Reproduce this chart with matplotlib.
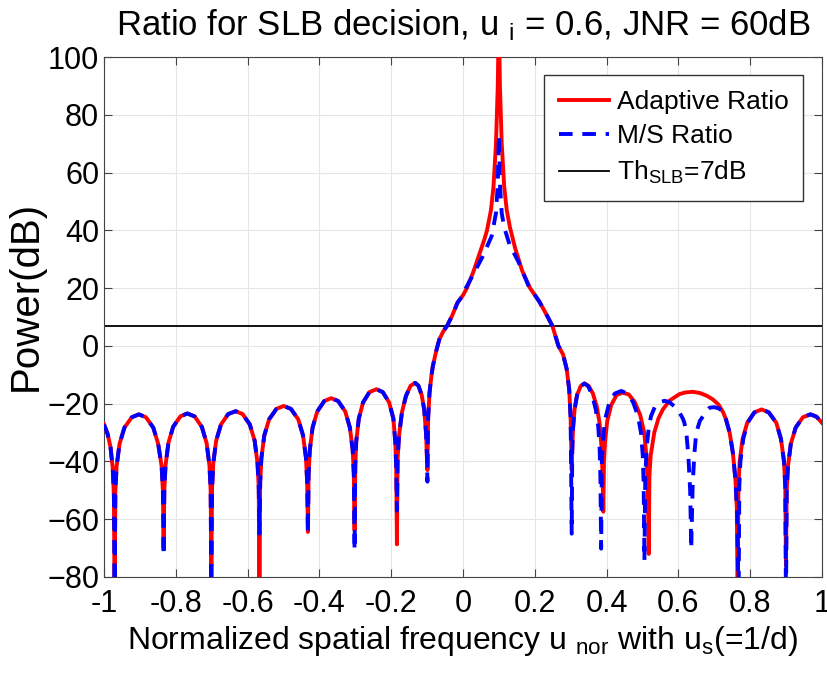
import matplotlib
matplotlib.use("Agg")
import matplotlib.pyplot as plt

# normalized spatial frequency / power (dB)
u_adapt = [-1.0, -0.99, -0.982, -0.976, -0.9725, -0.9705,
           -0.9685, -0.965, -0.9568, -0.9432, -0.9227, -0.903, -0.8833, -0.8628, -0.8492, -0.8395, -0.836, -0.834,
           -0.832, -0.8287, -0.8207, -0.8074, -0.7874, -0.768, -0.7476, -0.7276, -0.7143, -0.7063, -0.703, -0.701,
           -0.699, -0.6956, -0.6876, -0.6742, -0.6541, -0.633, -0.6139, -0.5938, -0.5804, -0.5724, -0.569, -0.567,
           -0.565, -0.5616, -0.5535, -0.54, -0.5197, -0.4995, -0.4793, -0.459, -0.4455, -0.4374, -0.434, -0.432,
           -0.43, -0.4268, -0.419, -0.406, -0.3865, -0.367, -0.3475, -0.328, -0.315, -0.3072, -0.304, -0.302,
           -0.3, -0.2973, -0.2902, -0.2784, -0.2607, -0.241, -0.2233, -0.2056, -0.1938, -0.1887, -0.186, -0.184,
           -0.182, -0.178, -0.17, -0.159, -0.146, -0.133, -0.124, -0.115, -0.108, -0.103, -0.1005, -0.099,
           -0.097, -0.093, -0.088, -0.084, -0.075, -0.066, -0.055, -0.044, -0.03, -0.015, 0.0, 0.011, 0.03,
           0.048, 0.06, 0.067, 0.078, 0.085, 0.092, 0.097, 0.1, 0.103, 0.108, 0.115, 0.122, 0.131, 0.145,
           0.165, 0.187, 0.213, 0.232, 0.249, 0.266, 0.279, 0.289, 0.296, 0.3, 0.303,
           0.3045, 0.307, 0.311, 0.318, 0.328, 0.3385, 0.35, 0.362, 0.373, 0.381, 0.386, 0.389, 0.391,
           0.393, 0.396, 0.402, 0.413, 0.428, 0.445, 0.462, 0.479, 0.494, 0.505, 0.511, 0.515, 0.5176,
           0.5195, 0.523, 0.533, 0.545, 0.557, 0.575, 0.603, 0.62, 0.64, 0.66, 0.68, 0.696, 0.712, 0.725,
           0.733, 0.743, 0.752, 0.759, 0.763, 0.7655,
           0.7675, 0.771, 0.779, 0.792, 0.812, 0.832, 0.852, 0.873, 0.886, 0.8945, 0.898, 0.9,
           0.902, 0.9055, 0.9135, 0.927, 0.947, 0.968, 0.985, 1.0]
p_adapt = [-27.2, -30.5, -35, -42, -52, -90,
           -50.2, -41.7, -33.9, -28.3, -24.7, -23.7, -24.7, -28.3, -33.9, -41.7, -50.2, -69.7,
           -49.9, -41.4, -33.6, -28, -24.4, -23.4, -24.4, -28, -33.6, -41.4, -49.9, -76,
           -49.1, -40.6, -32.8, -27.2, -23.6, -22.6, -23.6, -27.2, -32.8, -40.6, -49.1, -90,
           -47.3, -38.8, -31, -25.4, -21.8, -20.8, -21.8, -25.4, -31, -38.8, -47.3, -64.4,
           -44.6, -36.1, -28.3, -22.7, -19.1, -18.1, -19.1, -22.7, -28.3, -36.1, -44.6, -63.8,
           -41.5, -33, -25.2, -19.6, -16, -15, -16, -19.6, -25.2, -33, -41.5, -68.7,
           -39, -31, -23, -17.4, -13.8, -12.8, -13.8, -17, -22, -30, -38, -43,
           -25, -16, -10.5, -7.1, -2, 2.2, 5, 7, 10.5, 15, 17.5, 20, 26,
           32.6, 37, 40, 47, 55, 70, 90, 115, 90, 70, 55, 47, 41, 34,
           26, 20, 15.3, 11, 7, 0, -3, -8, -15, -25, -43,
           -36, -28, -22, -17, -13.9, -13, -13.8, -16.5, -21, -27, -35, -45, -57.4,
           -40, -33, -26, -20.5, -17, -16.2, -16.8, -19.5, -24, -30, -38, -48, -72,
           -45, -38, -30, -25, -22, -19, -16.7, -16.1, -15.9, -16.3, -17.3, -18.5, -20.3, -23,
           -25.5, -30, -37, -46, -56, -90,
           -48.5, -40, -32.2, -26.6, -23, -22, -23, -26.6, -32.2, -40, -48.5, -76,
           -50, -41.7, -33.9, -28.3, -24.7, -23.7, -24.5, -26.6]

u_ms = [-1.0, -0.99, -0.982, -0.976, -0.9725, -0.9705,
        -0.9685, -0.965, -0.9568, -0.9432, -0.9227, -0.903, -0.8833, -0.8628, -0.8492, -0.8395, -0.836, -0.834,
        -0.832, -0.8287, -0.8207, -0.8074, -0.7874, -0.768, -0.7476, -0.7276, -0.7143, -0.7063, -0.703, -0.701,
        -0.699, -0.6956, -0.6876, -0.6742, -0.6541, -0.633, -0.6139, -0.5938, -0.5804, -0.5724, -0.569, -0.567,
        -0.565, -0.5616, -0.5535, -0.54, -0.5197, -0.4995, -0.4793, -0.459, -0.4455, -0.4374, -0.434, -0.432,
        -0.43, -0.4268, -0.419, -0.406, -0.3865, -0.367, -0.3475, -0.328, -0.315, -0.3072, -0.304, -0.302,
        -0.3, -0.2973, -0.2902, -0.2784, -0.2607, -0.241, -0.2233, -0.2056, -0.1938, -0.1887, -0.186, -0.184,
        -0.182, -0.178, -0.17, -0.159, -0.146, -0.133, -0.124, -0.115, -0.108, -0.103, -0.1005, -0.099,
        -0.097, -0.093, -0.088, -0.084, -0.075, -0.066, -0.055, -0.044, -0.03, -0.015, 0.0, 0.008, 0.03,
        0.055, 0.08, 0.092, 0.097, 0.1, 0.103, 0.108, 0.115, 0.13, 0.155, 0.182,
        0.213, 0.232, 0.249, 0.266, 0.279, 0.289, 0.296, 0.3, 0.303,
        0.3045, 0.307, 0.311, 0.318, 0.328, 0.3385, 0.349, 0.36, 0.37, 0.377, 0.381, 0.383, 0.385,
        0.387, 0.39, 0.396, 0.407, 0.423, 0.441, 0.458, 0.474, 0.487, 0.496, 0.501, 0.5035, 0.5056,
        0.508, 0.512, 0.518, 0.524, 0.535, 0.548, 0.562, 0.575, 0.59, 0.603, 0.612, 0.617, 0.623, 0.628,
        0.633, 0.636, 0.64, 0.645, 0.65, 0.66, 0.669, 0.678, 0.687, 0.7, 0.712, 0.724, 0.733,
        0.743, 0.752, 0.759, 0.764, 0.768,
        0.77, 0.773, 0.781, 0.793, 0.812, 0.832, 0.852, 0.873, 0.886, 0.8945, 0.898, 0.9,
        0.902, 0.9055, 0.9135, 0.927, 0.947, 0.968, 0.985, 1.0]
p_ms = [-27.2, -30.5, -35, -42, -52, -90,
        -50.2, -41.7, -33.9, -28.3, -24.7, -23.7, -24.7, -28.3, -33.9, -41.7, -50.2, -72.6,
        -49.9, -41.4, -33.6, -28, -24.4, -23.4, -24.4, -28, -33.6, -41.4, -49.9, -90,
        -49.1, -40.6, -32.8, -27.2, -23.6, -22.6, -23.6, -27.2, -32.8, -40.6, -49.1, -65,
        -47.3, -38.8, -31, -25.4, -21.8, -20.8, -21.8, -25.4, -31, -38.8, -47.3, -65,
        -44.6, -36.1, -28.3, -22.7, -19.1, -18.1, -19.1, -22.7, -28.3, -36.1, -44.6, -70.8,
        -41.5, -33, -25.2, -19.6, -16, -15, -16, -19.6, -25.2, -33, -41.5, -57,
        -39, -31, -23, -17.4, -13.8, -12.8, -13.8, -17, -22, -30, -38, -47,
        -25, -16, -10.5, -7.1, -2, 2.2, 5, 7, 10.5, 15, 17.5, 20, 25,
        31, 38, 46, 56, 73, 56, 46, 41, 35, 29, 21,
        15.3, 11, 7, 0, -3, -8, -15, -25, -65,
        -36, -28, -22, -17, -13.9, -13, -14, -17, -22, -28, -36, -46, -70.2,
        -40, -33, -25.5, -20, -16.5, -15.6, -16.5, -19.5, -24, -30, -38, -48, -74.3,
        -45, -35, -28, -24.3, -21, -19.5, -19, -19.5, -21, -23, -25, -26.6, -31, -38,
        -50, -70.2, -48, -37, -30, -26, -24.3, -22.5, -21.4, -21.2, -21.6, -22.6, -25.5,
        -30, -37, -46, -58, -90,
        -48.5, -40, -32.2, -26.6, -23, -22, -23, -26.6, -32.2, -40, -48.5, -90,
        -50, -41.7, -33.9, -28.3, -24.7, -23.7, -24.5, -26.6]

th_slb = 7
x_ticks = [-1, -0.8, -0.6, -0.4, -0.2, 0, 0.2, 0.4, 0.6, 0.8, 1]
x_labels = ["-1", "-0.8", "-0.6", "-0.4", "-0.2", "0", "0.2", "0.4", "0.6", "0.8", "1"]
y_ticks = [-80, -60, -40, -20, 0, 20, 40, 60, 80, 100]

fam = "Liberation Sans"
plt.rcParams["font.family"] = [fam, "DejaVu Sans"]
plt.rcParams["mathtext.fontset"] = "custom"
plt.rcParams["mathtext.rm"] = fam
plt.rcParams["mathtext.it"] = fam
plt.rcParams["mathtext.default"] = "regular"

fig = plt.figure(figsize=(8.27, 6.83), dpi=100)
ax = fig.add_axes([0.1258, 0.1552, 0.868, 0.7613])

ax.plot(u_adapt, p_adapt, color="red", lw=2.8, label="Adaptive Ratio", zorder=3)
ax.plot(u_ms, p_ms, color="blue", lw=2.8, ls=(0, (3.5, 2.5)), label="M/S Ratio", zorder=4)
ax.axhline(th_slb, color="black", lw=1.3, label=r"Th$_{SLB}$=7dB", zorder=2)

ax.set_xlim(-1, 1)
ax.set_ylim(-80, 100)
ax.set_xticks(x_ticks)
ax.set_xticklabels(x_labels)
ax.set_yticks(y_ticks)
ax.tick_params(direction="in", top=True, right=True, labelsize=22, length=6, color="#444444")
ax.tick_params(axis="x", pad=9)
ax.grid(True, color="#e6e6e6", lw=0.8)
ax.set_axisbelow(True)
for s in ax.spines.values():
    s.set_color("#444444")

ax.set_title(r"Ratio for SLB decision, u $_{i}$ = 0.6, JNR = 60dB", fontsize=25, pad=16)
ax.set_xlabel(r"Normalized spatial frequency u $_{nor}$ with u$_{s}$(=1/d)", fontsize=23, labelpad=3)
ax.set_ylabel("Power(dB)", fontsize=29)
ax.yaxis.set_label_coords(-0.082, 0.54)

leg = ax.legend(loc="upper right", bbox_to_anchor=(0.9735, 0.965), fontsize=19,
                frameon=True, fancybox=False, edgecolor="#333333", framealpha=1,
                handlelength=1.9, handletextpad=0.3, borderpad=0.55, labelspacing=0.4,
                borderaxespad=0)
leg.get_frame().set_linewidth(1.0)

fig.savefig("out.png", dpi=100)
